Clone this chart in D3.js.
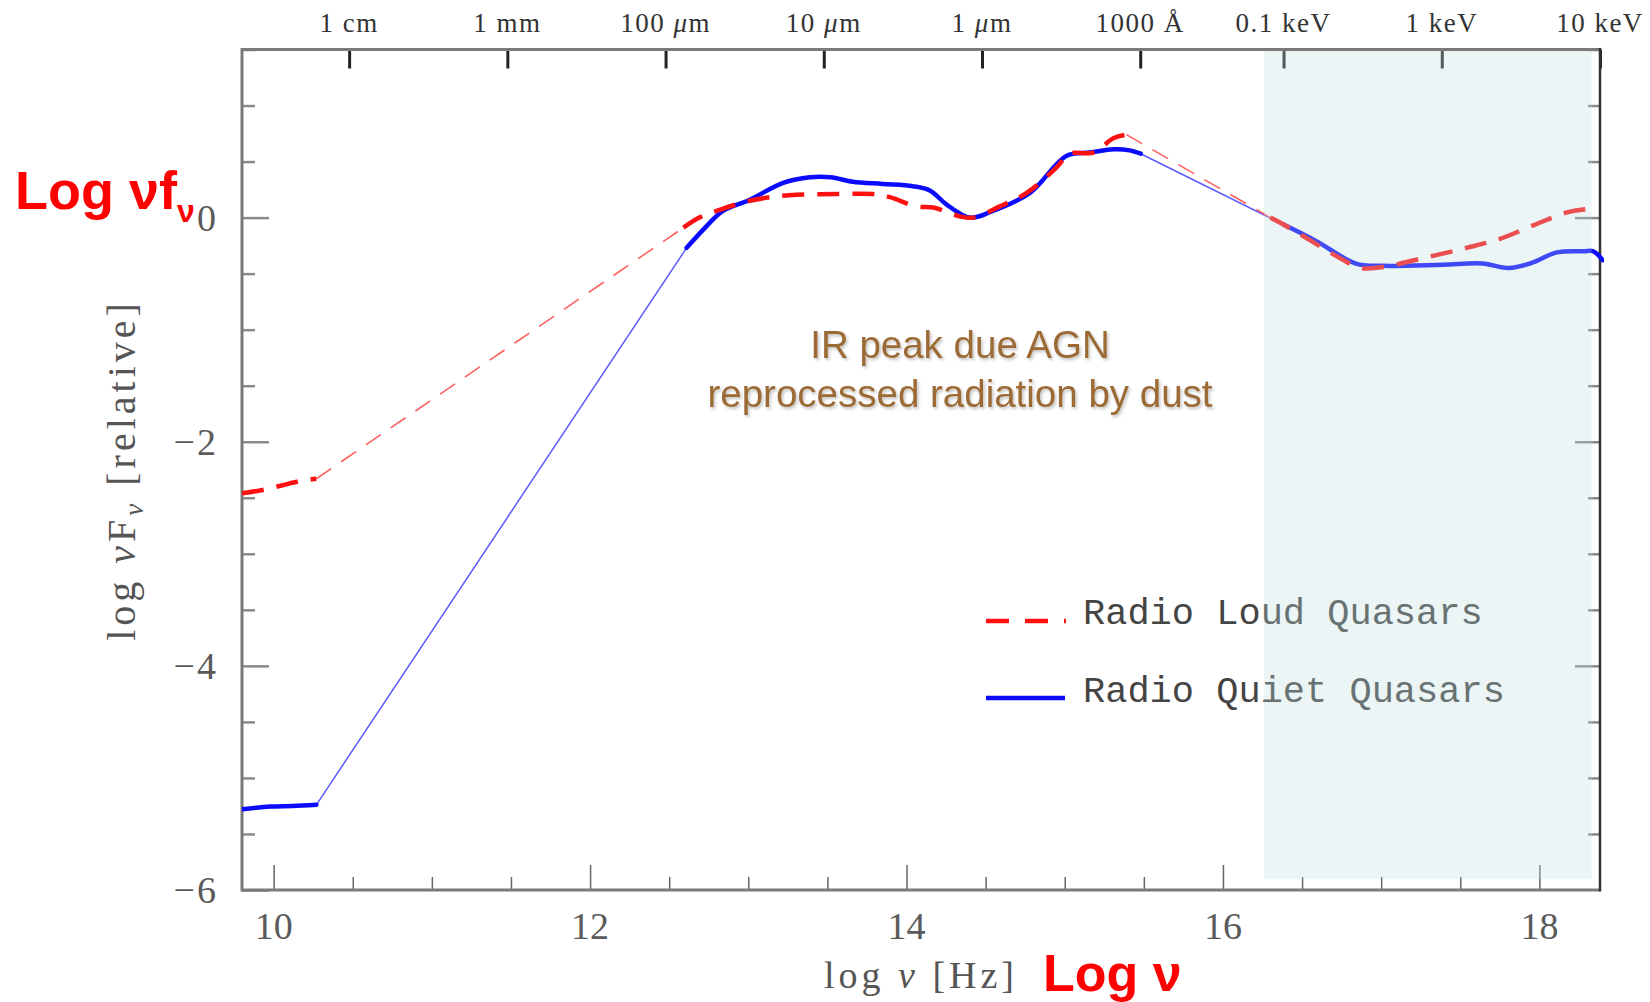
<!DOCTYPE html>
<html>
<head>
<meta charset="utf-8">
<script src="https://cdn.jsdelivr.net/npm/d3@7"></script>
<style>
  html, body { margin: 0; padding: 0; background: #fff; }
  svg { display: block; }
</style>
</head>
<body>
<script>
// ---------------- DATA ----------------
// Radio Loud Quasars (red dashed), measured segments
const rlRadioX = [9.80, 9.93, 10.05, 10.17, 10.27];
const rlRadioY = [-2.46, -2.43, -2.39, -2.35, -2.33];
const rlIRX = [12.59, 12.69, 12.80, 13.01, 13.26, 13.58, 13.79, 13.90, 14.06, 14.17, 14.34, 14.42, 14.59, 14.76, 14.95, 15.03, 15.18, 15.31, 15.39];
const rlIRY = [-0.09, 0.00, 0.06, 0.15, 0.20, 0.21, 0.21, 0.18, 0.10, 0.09, 0.01, 0.00, 0.10, 0.22, 0.45, 0.57, 0.58, 0.71, 0.74];
const rlXrayX = [16.30, 16.38, 16.50, 16.63, 16.75, 16.87, 17.01, 17.27, 17.54, 17.75, 17.96, 18.17, 18.29];
const rlXrayY = [0.00, -0.06, -0.16, -0.27, -0.37, -0.45, -0.44, -0.36, -0.27, -0.19, -0.07, 0.045, 0.075];

// Radio Quiet Quasars (blue solid), measured segments
const rqRadioX = [9.80, 9.98, 10.12, 10.27];
const rqRadioY = [-5.28, -5.255, -5.25, -5.24];
const rqIRX = [12.61, 12.72, 12.84, 13.01, 13.22, 13.39, 13.52, 13.66, 13.85, 14.04, 14.15, 14.25, 14.40, 14.53, 14.78, 15.01, 15.16, 15.31, 15.41, 15.48];
const rqIRY = [-0.27, -0.10, 0.06, 0.16, 0.31, 0.36, 0.36, 0.32, 0.30, 0.28, 0.24, 0.12, 0.00, 0.05, 0.22, 0.55, 0.58, 0.61, 0.60, 0.57];
const rqXrayX = [16.38, 16.59, 16.84, 17.01, 17.39, 17.64, 17.81, 17.96, 18.11, 18.28, 18.34, 18.40];
const rqXrayY = [-0.06, -0.21, -0.41, -0.43, -0.42, -0.41, -0.45, -0.40, -0.31, -0.30, -0.30, -0.38];

// Axes
const xDomain = [9.8, 18.383];
const yDomain = [-6, 1.5];
const xMajorTicks = [10, 12, 14, 16, 18];
const yMajorTicks = [-6, -4, -2, 0];
const topTickValues = [10.477, 11.477, 12.477, 13.477, 14.477, 15.477, 16.383, 17.383, 18.383];
const topTickLabels = ["1 cm", "1 mm", "100 μm", "10 μm", "1 μm", "1000 Å", "0.1 keV", "1 keV", "10 keV"];
const legendLabels = ["Radio Loud Quasars", "Radio Quiet Quasars"];
const annotationLines = ["IR peak due AGN", "reprocessed radiation by dust"];
const shadeX = [16.26, 18.33];
const shadeY = [-5.9, 1.5];

// ---------------- LAYOUT ----------------
const W = 1650, H = 1002;
const L = 242, R = 1600, T = 49.5, B = 890;
const svg = d3.select("body").append("svg").attr("width", W).attr("height", H);
const x = d3.scaleLinear().domain(xDomain).range([L, R]);
const y = d3.scaleLinear().domain(yDomain).range([B, T]);

const defs = svg.append("defs");
defs.append("clipPath").attr("id", "clip").append("rect")
  .attr("x", L).attr("y", T).attr("width", R - L + 4).attr("height", B - T);
const f = defs.append("filter").attr("id", "shadow").attr("x", "-10%").attr("y", "-30%").attr("width", "120%").attr("height", "160%");
f.append("feDropShadow").attr("dx", 1.5).attr("dy", 2).attr("stdDeviation", 1.5).attr("flood-color", "#000").attr("flood-opacity", 0.25);

const serif = "'Liberation Serif', 'DejaVu Serif', serif";
const sans = "'Liberation Sans', Arial, sans-serif";

// ---------------- AXES ----------------
const halfTicks = d3.range(yDomain[0], yDomain[1] + 0.001, 0.5);
const xHalfTicks = d3.range(10, 18.01, 0.5);

// left axis ticks
const gL = svg.append("g").attr("transform", `translate(${L},0)`);
gL.call(d3.axisRight(y).tickValues(halfTicks).tickSize(13).tickFormat(""));
gL.selectAll(".tick line").attr("stroke", "#8a8a8a").attr("stroke-width", 2.5)
  .attr("x2", d => yMajorTicks.includes(d) ? 27 : 13);
gL.select(".domain").remove();

// right axis ticks
const gR = svg.append("g").attr("transform", `translate(${R},0)`);
gR.call(d3.axisLeft(y).tickValues(halfTicks.filter(d => d > -6)).tickSize(12).tickFormat(""));
gR.selectAll(".tick line").attr("stroke", "#8a8a8a").attr("stroke-width", 2.5)
  .attr("x2", d => yMajorTicks.includes(d) ? -25 : -12);
gR.select(".domain").remove();

// bottom axis ticks
const gB = svg.append("g").attr("transform", `translate(0,${B})`);
gB.call(d3.axisTop(x).tickValues(xHalfTicks).tickSize(13).tickFormat(""));
gB.selectAll(".tick line").attr("stroke", "#666").attr("stroke-width", 1.5)
  .attr("y2", d => xMajorTicks.includes(d) ? -25 : -13);
gB.select(".domain").remove();

// top axis ticks
const gT = svg.append("g").attr("transform", `translate(0,${T})`);
gT.call(d3.axisBottom(x).tickValues(topTickValues).tickSize(19).tickFormat(""));
gT.selectAll(".tick line").attr("stroke", "#222").attr("stroke-width", 3);
gT.select(".domain").remove();

// frame
svg.append("line").attr("x1", L).attr("x2", L).attr("y1", T - 1.5).attr("y2", B + 1.5).attr("stroke", "#7a7a7a").attr("stroke-width", 3);
svg.append("line").attr("x1", L).attr("x2", R).attr("y1", T).attr("y2", T).attr("stroke", "#7a7a7a").attr("stroke-width", 3);
svg.append("line").attr("x1", L).attr("x2", R).attr("y1", B).attr("y2", B).attr("stroke", "#7a7a7a").attr("stroke-width", 3);
svg.append("line").attr("x1", R).attr("x2", R).attr("y1", T - 1.5).attr("y2", B + 1.5).attr("stroke", "#333").attr("stroke-width", 2.5);

// tick labels
svg.append("g").selectAll("text").data(yMajorTicks).join("text")
  .attr("x", 218).attr("y", d => y(d)).attr("dy", "0.35em")
  .attr("text-anchor", "end").attr("font-family", serif).attr("font-size", 38).attr("fill", "#5a5a5a")
  .attr("letter-spacing", 2)
  .text(d => d < 0 ? "−" + Math.abs(d) : d);

svg.append("g").selectAll("text").data(xMajorTicks).join("text")
  .attr("x", d => x(d)).attr("y", 939)
  .attr("text-anchor", "middle").attr("font-family", serif).attr("font-size", 38).attr("fill", "#5a5a5a")
  .text(d => d);

const topLab = svg.append("g").selectAll("text").data(topTickValues).join("text")
  .attr("x", d => x(d)).attr("y", 32)
  .attr("text-anchor", "middle").attr("font-family", serif).attr("font-size", 27).attr("fill", "#333")
  .attr("letter-spacing", 1.5);
topLab.each(function(d, i) {
  const t = d3.select(this), s = topTickLabels[i];
  if (s.includes("μ")) {
    const parts = s.split("μ");
    t.append("tspan").text(parts[0]);
    t.append("tspan").attr("font-style", "italic").text("μ");
    t.append("tspan").text(parts[1]);
  } else t.text(s);
});

// axis titles
const yt = svg.append("text").attr("transform", "translate(135,470) rotate(-90)")
  .attr("text-anchor", "middle").attr("font-family", serif).attr("font-size", 40).attr("fill", "#555")
  .attr("letter-spacing", 4);
yt.append("tspan").text("log ");
yt.append("tspan").attr("font-style", "italic").text("ν");
yt.append("tspan").text("F");
yt.append("tspan").attr("font-style", "italic").attr("font-size", 27).attr("dy", 8).text("ν");
yt.append("tspan").attr("dy", -8).text(" [relative]");

const xt = svg.append("text").attr("x", 921).attr("y", 988)
  .attr("text-anchor", "middle").attr("font-family", serif).attr("font-size", 38).attr("fill", "#555")
  .attr("letter-spacing", 4);
xt.append("tspan").text("log ");
xt.append("tspan").attr("font-style", "italic").text("ν");
xt.append("tspan").text(" [Hz]");

// red slide labels
const lv = svg.append("text").attr("x", 15).attr("y", 209)
  .attr("font-family", sans).attr("font-weight", "bold").attr("font-size", 54).attr("fill", "#ff0000");
lv.append("tspan").text("Log νf");
lv.append("tspan").attr("font-size", 32).attr("dy", 13).text("ν");

svg.append("text").attr("x", 1043).attr("y", 991)
  .attr("font-family", sans).attr("font-weight", "bold").attr("font-size", 52).attr("fill", "#ff0000")
  .text("Log ν");

// ---------------- LINES ----------------
const pts = (xs, ys) => xs.map((v, i) => [v, ys[i]]);
const line = d3.line().x(d => x(d[0])).y(d => y(d[1])).curve(d3.curveCatmullRom.alpha(0.5));
const plot = svg.append("g").attr("clip-path", "url(#clip)");

const rlSegs = [pts(rlRadioX, rlRadioY), pts(rlIRX, rlIRY), pts(rlXrayX, rlXrayY)];
const rqSegs = [pts(rqRadioX, rqRadioY), pts(rqIRX, rqIRY), pts(rqXrayX, rqXrayY)];

function connectors(segs) {
  const out = [];
  for (let i = 0; i < segs.length - 1; i++) out.push([segs[i][segs[i].length - 1], segs[i + 1][0]]);
  return out;
}

// thin interpolated connectors
plot.selectAll(".rqthin").data(connectors(rqSegs)).join("path")
  .attr("d", d3.line().x(d => x(d[0])).y(d => y(d[1])))
  .attr("fill", "none").attr("stroke", "#5a5aff").attr("stroke-width", 1.5);
plot.selectAll(".rlthin").data(connectors(rlSegs)).join("path")
  .attr("d", d3.line().x(d => x(d[0])).y(d => y(d[1])))
  .attr("fill", "none").attr("stroke", "#ff6060").attr("stroke-width", 1.6).attr("stroke-dasharray", "18,12");

// thick measured segments
plot.selectAll(".rq").data(rqSegs).join("path")
  .attr("d", line).attr("fill", "none").attr("stroke", "#0a0aff").attr("stroke-width", 4.5)
  .attr("stroke-linecap", "round").attr("stroke-linejoin", "round");
plot.selectAll(".rl").data(rlSegs).join("path")
  .attr("d", line).attr("fill", "none").attr("stroke", "#ff1010").attr("stroke-width", 4.5)
  .attr("stroke-dasharray", "22,13");

// ---------------- LEGEND ----------------
const leg = svg.append("g");
leg.append("line").attr("x1", 986).attr("x2", 1066).attr("y1", 621).attr("y2", 621)
  .attr("stroke", "#ff1010").attr("stroke-width", 4.5).attr("stroke-dasharray", "23,16");
leg.append("line").attr("x1", 986).attr("x2", 1065).attr("y1", 698).attr("y2", 698)
  .attr("stroke", "#0a0aff").attr("stroke-width", 4.5);
leg.selectAll("text").data(legendLabels).join("text")
  .attr("x", 1083).attr("y", (d, i) => i === 0 ? 624 : 702)
  .attr("font-family", "'Liberation Mono', 'Courier New', monospace").attr("font-size", 37).attr("fill", "#444")
  .text(d => d);

// ---------------- ANNOTATION ----------------
svg.append("g").selectAll("text").data(annotationLines).join("text")
  .attr("x", 960).attr("y", (d, i) => i === 0 ? 358 : 407)
  .attr("text-anchor", "middle").attr("font-family", sans).attr("font-size", 38.5).attr("fill", "#9b6a35")
  .attr("filter", "url(#shadow)")
  .text(d => d);

// ---------------- SHADED OVERLAY ----------------
svg.append("rect")
  .attr("x", x(shadeX[0])).attr("y", y(shadeY[1]) + 1.5)
  .attr("width", x(shadeX[1]) - x(shadeX[0])).attr("height", y(shadeY[0]) - y(shadeY[1]) - 1.5)
  .attr("fill", "rgb(188,222,225)").attr("fill-opacity", 0.3);
</script>
</body>
</html>
